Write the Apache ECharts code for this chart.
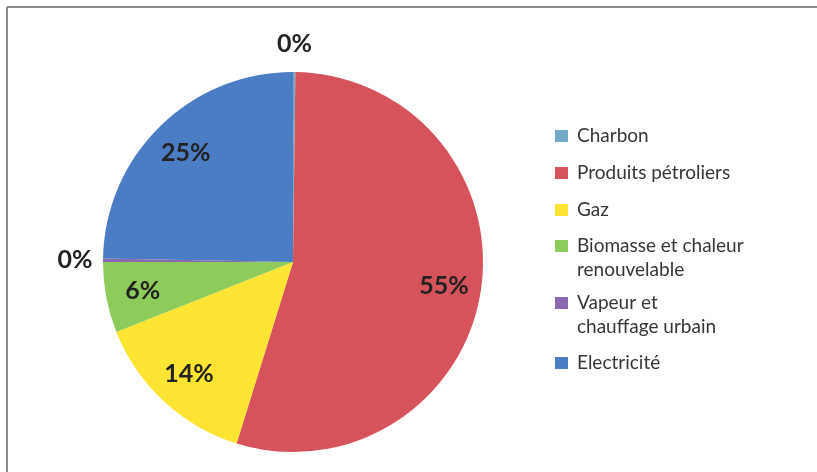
<!DOCTYPE html>
<html>
<head>
<meta charset="utf-8">
<script src="https://cdn.jsdelivr.net/npm/echarts@6/dist/echarts.min.js"></script>
<style>
  html, body { margin: 0; padding: 0; background: #fff; overflow: hidden; }
  #main { width: 817px; height: 472px; }
</style>
</head>
<body>
<div id="main"></div>
<script>
// parts de la consommation finale d'énergie (%)
const categories = [
  "Charbon",
  "Produits pétroliers",
  "Gaz",
  "Biomasse et chaleur renouvelable",
  "Vapeur et chauffage urbain",
  "Electricité",
];
const values = [0.2, 54.6, 14.2, 6.0, 0.3, 24.7];
// texte de légende (retour à la ligne comme sur l'original)
const legendLabels = [
  "Charbon",
  "Produits pétroliers",
  "Gaz",
  "Biomasse et chaleur\nrenouvelable",
  "Vapeur et\nchauffage urbain",
  "Electricité",
];

let chart = echarts.init(document.getElementById("main"));

const FONT = "Lato, 'Open Sans', sans-serif";
const pieData = categories.map((name, i) => ({ name: name, value: values[i] }));
const pctLabel = (p) => Math.round(p.percent) + "%";
const labelStyle = {
  color: "#222",
  fontFamily: FONT,
  fontWeight: "bold",
  fontSize: 25,
  formatter: pctLabel,
};

// petites parts (< 1%) : étiquette à l'extérieur, les autres à l'intérieur
const innerData = pieData.map((d) => ({
  name: d.name,
  value: d.value,
  label: { show: d.value >= 1 },
}));
const outerData = pieData.map((d) => ({
  name: d.name,
  value: d.value,
  label: { show: d.value < 1 },
}));

const legendText = {};
categories.forEach((c, i) => (legendText[c] = legendLabels[i]));

const legendBase = {
  orient: "vertical",
  left: 550,
  itemWidth: 13,
  itemHeight: 12,
  itemGap: 13,
  icon: "rect",
  selectedMode: false,
  textStyle: {
    color: "#363636",
    fontFamily: FONT,
    fontSize: 19,
    lineHeight: 24,
    padding: [0, 0, 0, 4],
  },
};

// cadre : seulement les bords haut et gauche sont visibles
const frameStyle = { stroke: "#8c8c8c", lineWidth: 2 };

let option = {
  animation: false,
  color: ["#72A9C6", "#D7535C", "#FFE433", "#8DCB5B", "#8A67B1", "#4A7DC4"],
  graphic: [
    {
      type: "line",
      silent: true,
      shape: { x1: 7, y1: 7, x2: 817, y2: 7 },
      style: frameStyle,
    },
    {
      type: "line",
      silent: true,
      shape: { x1: 7, y1: 7, x2: 7, y2: 472 },
      style: frameStyle,
    },
  ],
  legend: [
    Object.assign({}, legendBase, {
      top: 119,
      data: categories.slice(0, 3),
      formatter: (n) => legendText[n],
    }),
    // ligne vide en tête pour aligner le carré sur la première ligne
    Object.assign({}, legendBase, {
      top: 205,
      data: [categories[3]],
      formatter: (n) => "\n" + legendText[n],
    }),
    Object.assign({}, legendBase, {
      top: 262,
      data: [categories[4]],
      formatter: (n) => "\n" + legendText[n],
    }),
    Object.assign({}, legendBase, {
      top: 346,
      data: [categories[5]],
      formatter: (n) => legendText[n],
    }),
  ],
  series: [
    {
      type: "pie",
      center: [293, 262],
      radius: [0, 190],
      startAngle: 90,
      clockwise: true,
      silent: true,
      label: { show: false },
      labelLine: { show: false },
      data: pieData,
    },
    {
      // anneau transparent : étiquettes intérieures
      type: "pie",
      center: [293, 262],
      radius: [110, 190],
      startAngle: 90,
      silent: true,
      itemStyle: { color: "transparent" },
      label: Object.assign({ position: "inside" }, labelStyle),
      labelLine: { show: false },
      data: innerData,
    },
    {
      // anneau transparent : étiquettes extérieures des parts à 0%
      type: "pie",
      center: [293, 262],
      radius: [190, 240],
      startAngle: 90,
      silent: true,
      itemStyle: { color: "transparent" },
      label: Object.assign({ position: "inside" }, labelStyle),
      labelLine: { show: false },
      data: outerData,
    },
  ],
};
chart.setOption(option);
</script>
</body>
</html>
